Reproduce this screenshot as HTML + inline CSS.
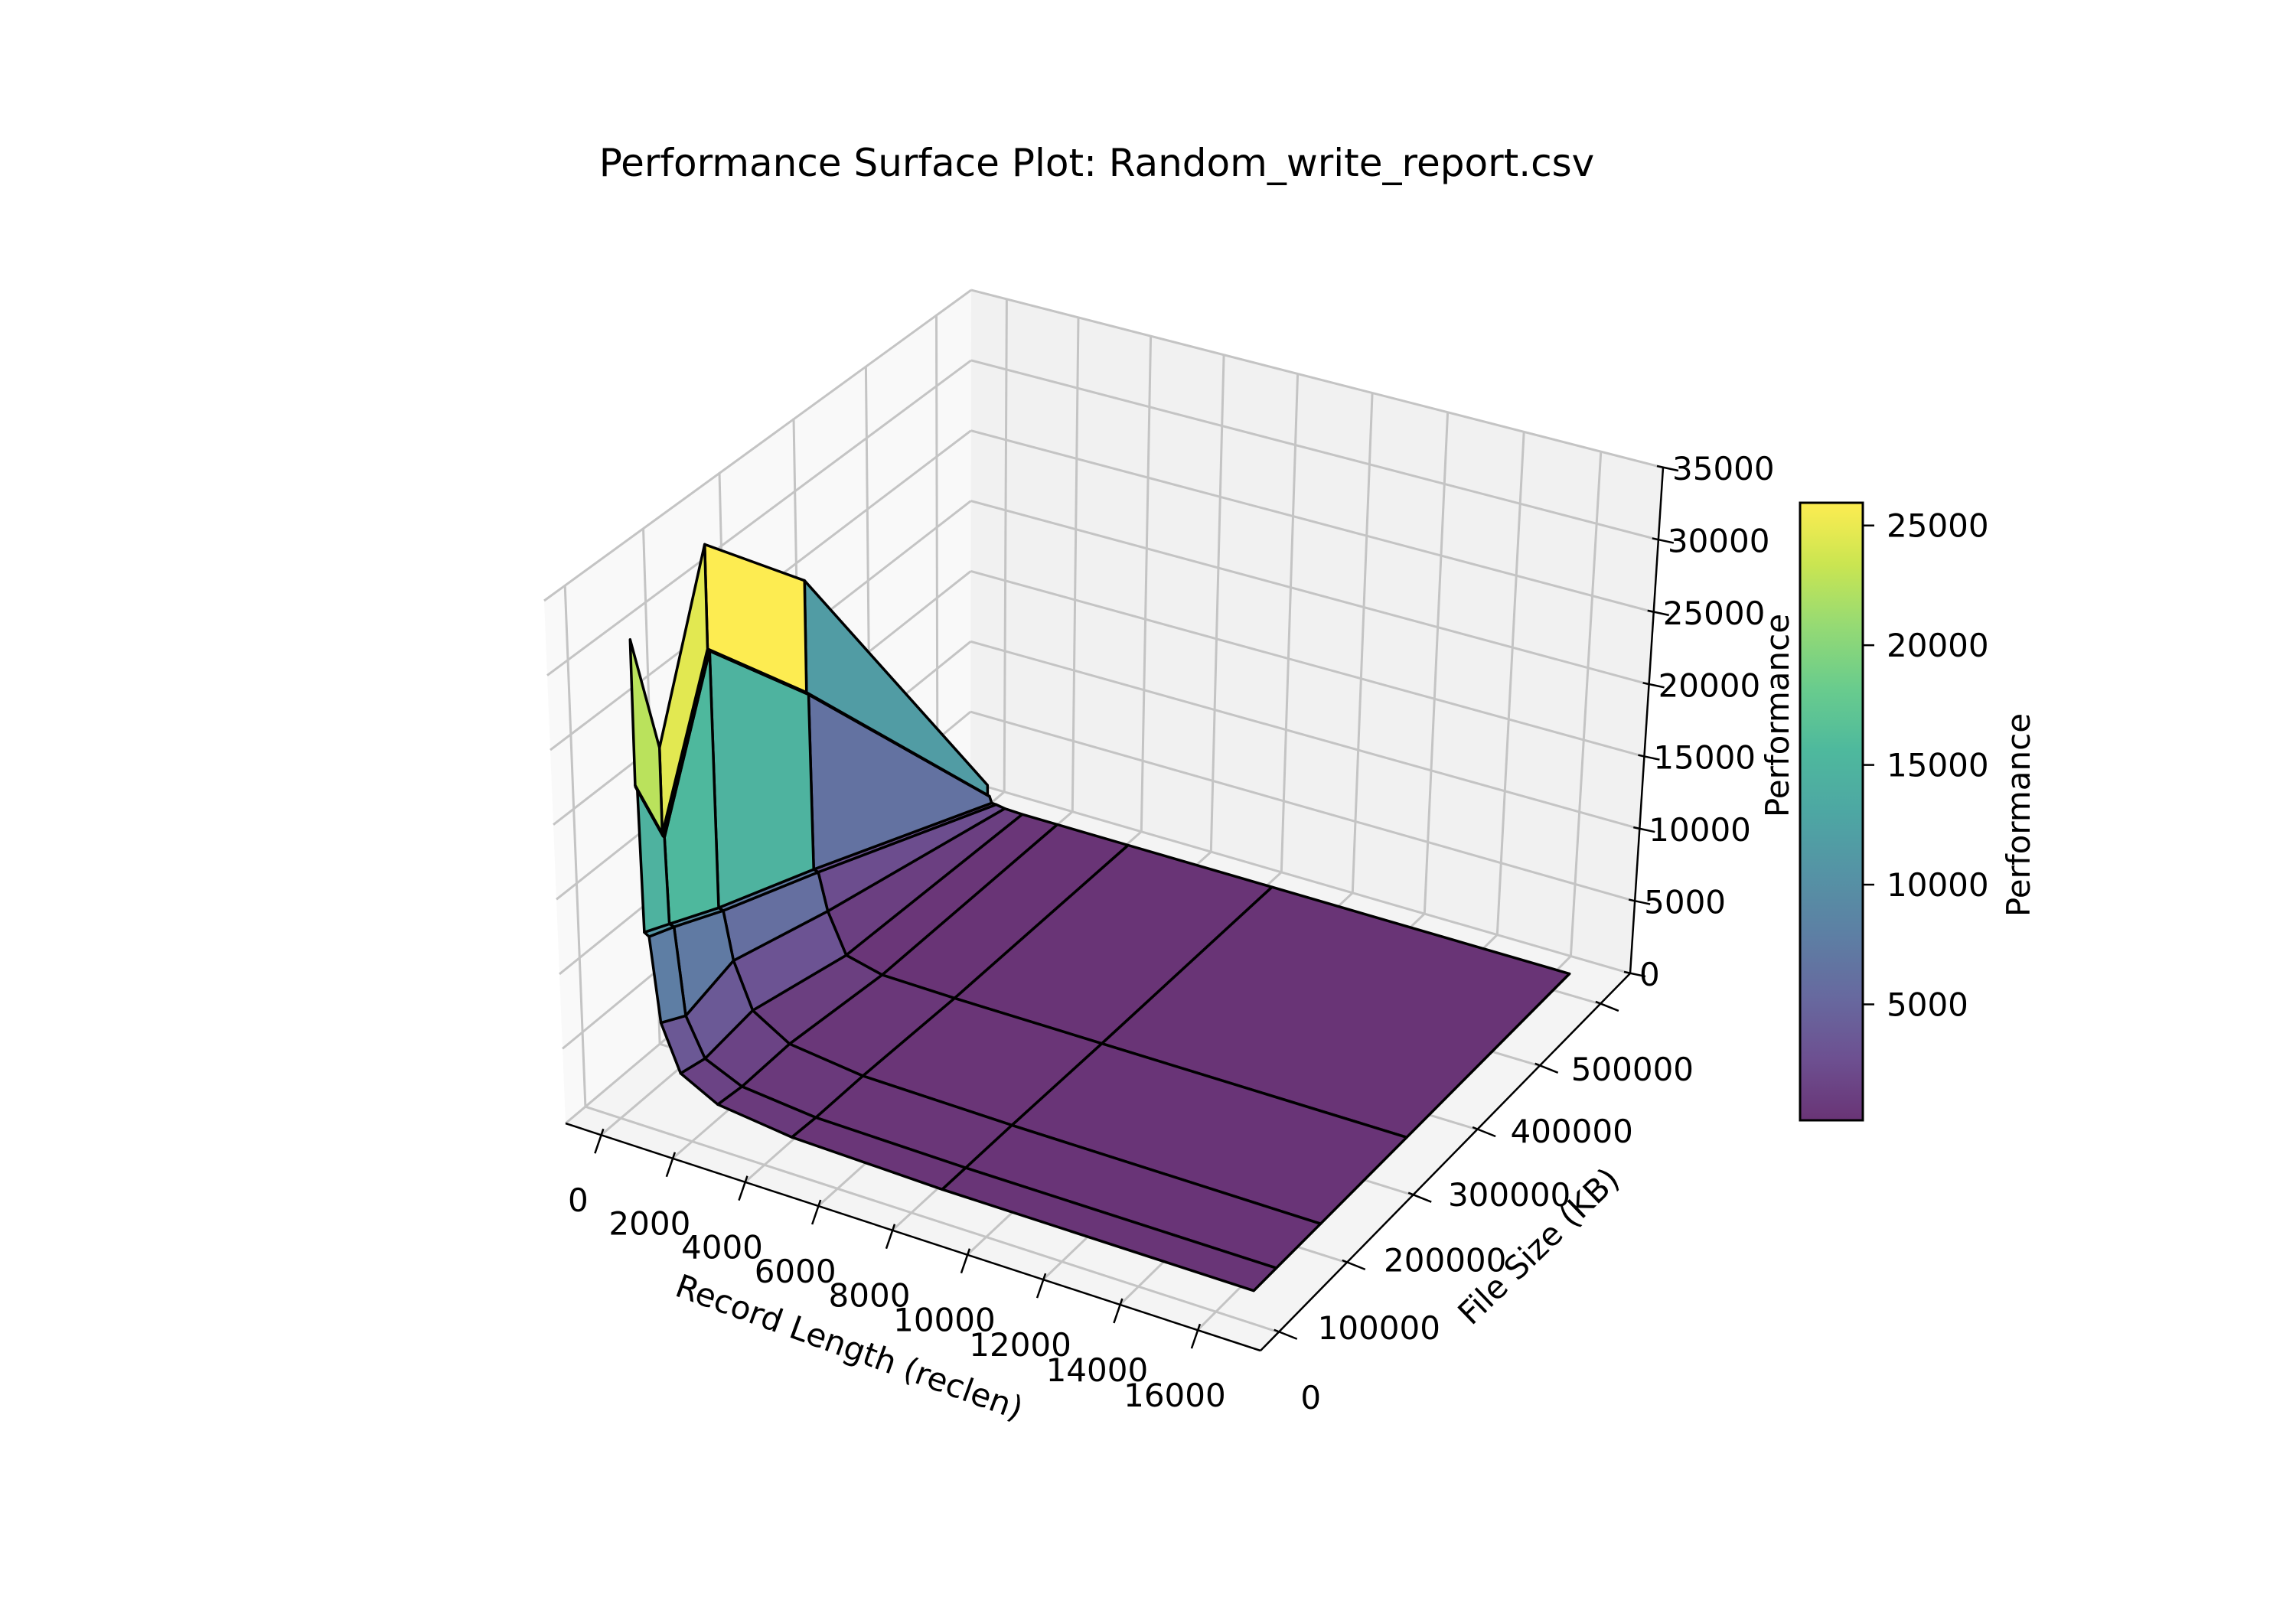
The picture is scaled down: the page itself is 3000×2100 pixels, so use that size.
<!DOCTYPE html>
<html><head><meta charset="utf-8"><style>
html,body{margin:0;padding:0;background:#fff;}
svg{display:block;font-family:"DejaVu Sans","Liberation Sans",sans-serif;}
</style></head><body>
<svg id="chart" width="3000" height="2100" viewBox="0 0 3000 2100" xmlns="http://www.w3.org/2000/svg">
<rect width="3000" height="2100" fill="#ffffff"/>
<text x="1433" y="230" font-size="50" text-anchor="middle">Performance Surface Plot: Random_write_report.csv</text>
<g id="panes"></g>
<g id="grid"></g>
<g id="axes"></g>
<g id="surface"></g>
<g id="cbar"></g>
<text x="1110" y="1775" font-size="42" text-anchor="middle" transform="rotate(20 1110 1760)">Record Length (reclen)</text>
<text x="2010" y="1643" font-size="42" text-anchor="middle" transform="rotate(-44 2010 1628)">File Size (KB)</text>
<text x="2322" y="950" font-size="42" text-anchor="middle" transform="rotate(-90 2322 935)">Performance</text>
<text x="2637" y="1080" font-size="42" text-anchor="middle" transform="rotate(-90 2637 1065)">Performance</text>
</svg>
<script>
// ---- data ----
const reclen = [4, 8, 16, 32, 64, 128, 256, 512, 1024, 2048, 4096, 8192, 16384];
const fileSize = [32768, 65536, 131072, 262144, 524288];
const perf32768  = [30800, 21000, 20900, 20850, 20800, 11200, 11000, 5400, 2400, 1100, 500, 250, 200];
const perf65536  = [22200, 16400, 16300, 16250, 16200, 10400, 10300, 4500, 2000, 900, 400, 250, 200];
const perf131072 = [33400, 26300, 26250, 26220, 26200, 8800, 8700, 5500, 2500, 1000, 400, 250, 180];
const perf262144 = [25900, 18200, 18150, 18120, 18100, 6100, 6000, 3500, 850, 250, 180, 170, 160];
const perf524288 = [1500, 800, 780, 770, 760, 320, 300, 200, 150, 150, 150, 150, 150];
const perfRows = [perf32768, perf65536, perf131072, perf262144, perf524288];
const xTicks = [0, 2000, 4000, 6000, 8000, 10000, 12000, 14000, 16000];
const yTicks = [0, 100000, 200000, 300000, 400000, 500000];
const zTicks = [0, 5000, 10000, 15000, 20000, 25000, 30000, 35000];
const cbarTicks = [5000, 10000, 15000, 20000, 25000];

// ---- projection ----
const XL = [-1000, 17600], YL = [-26147, 550435], ZL = [0, 35000];
const A=[739,1468], B=[1647,1765], C=[2130,1272], D=[1268,1022];
const ZA=[-28,-683], ZB=[14,-701], ZC=[43,-661], ZD=[1,-643];
const sx=A[0]-B[0]+C[0]-D[0], sy=A[1]-B[1]+C[1]-D[1];
const dx1=B[0]-C[0], dx2=D[0]-C[0], dy1=B[1]-C[1], dy2=D[1]-C[1];
const den=dx1*dy2-dx2*dy1;
const hg=(sx*dy2-dx2*sy)/den, hh=(dx1*sy-sx*dy1)/den;
const ha=B[0]-A[0]+hg*B[0], hb=D[0]-A[0]+hh*D[0], hc=A[0];
const hd=B[1]-A[1]+hg*B[1], he=D[1]-A[1]+hh*D[1], hf=A[1];
function proj(x,y,z){
  const u=(x-XL[0])/(XL[1]-XL[0]), v=(y-YL[0])/(YL[1]-YL[0]), w=(z-ZL[0])/(ZL[1]-ZL[0]);
  const q=hg*u+hh*v+1;
  const px=(ha*u+hb*v+hc)/q, py=(hd*u+he*v+hf)/q;
  const zx=ZA[0]*(1-u)*(1-v)+ZB[0]*u*(1-v)+ZC[0]*u*v+ZD[0]*(1-u)*v;
  const zy=ZA[1]*(1-u)*(1-v)+ZB[1]*u*(1-v)+ZC[1]*u*v+ZD[1]*(1-u)*v;
  return [px+zx*w, py+zy*w];
}
function depth(x,y,z){
  const u=(x-XL[0])/(XL[1]-XL[0]), v=(y-YL[0])/(YL[1]-YL[0]), w=(z-ZL[0])/(ZL[1]-ZL[0]);
  return 0.433*u-0.75*v+0.375*w;
}
const NS='http://www.w3.org/2000/svg';
function mk(tag,attrs,parent){const e=document.createElementNS(NS,tag);for(const k in attrs)e.setAttribute(k,attrs[k]);parent.appendChild(e);return e;}
function pts(arr){return arr.map(p=>p[0].toFixed(1)+','+p[1].toFixed(1)).join(' ');}

// viridis
const VIR=['#440154','#482475','#414487','#355f8d','#2a788e','#21918c','#22a884','#44bf70','#7ad151','#bddf26','#fde725'];
function hex(c){return [parseInt(c.substr(1,2),16),parseInt(c.substr(3,2),16),parseInt(c.substr(5,2),16)];}
function viridis(t,alpha){
  t=Math.max(0,Math.min(1,t));const f=t*10, i=Math.min(9,Math.floor(f)), r=f-i;
  const a=hex(VIR[i]), b=hex(VIR[i+1]);
  const c=[0,1,2].map(k=>a[k]+(b[k]-a[k])*r).map(v=>Math.round(v*alpha+255*(1-alpha)));
  return 'rgb('+c.join(',')+')';
}

// ---- panes ----
const panes=document.getElementById('panes');
let e;
e=mk('polygon',{points:pts([proj(XL[0],YL[0],ZL[0]),proj(XL[0],YL[1],ZL[0]),proj(XL[0],YL[1],ZL[1]),proj(XL[0],YL[0],ZL[1])]),fill:'#f9f9f9'},panes);


e=mk('polygon',{points:pts([proj(XL[0],YL[1],ZL[0]),proj(XL[1],YL[1],ZL[0]),proj(XL[1],YL[1],ZL[1]),proj(XL[0],YL[1],ZL[1])]),fill:'#f1f1f1'},panes);


e=mk('polygon',{points:pts([proj(XL[0],YL[0],ZL[0]),proj(XL[1],YL[0],ZL[0]),proj(XL[1],YL[1],ZL[0]),proj(XL[0],YL[1],ZL[0])]),fill:'#f4f4f4'},panes);



// ---- gridlines ----
const grid=document.getElementById('grid');
function gl(p1,p2,name){const l=mk('polyline',{points:pts([p1,p2]),stroke:'#c4c4c4','stroke-width':3,fill:'none'},grid);

}
xTicks.forEach(t=>{gl(proj(t,YL[0],0),proj(t,YL[1],0),'x-gridline-floor');gl(proj(t,YL[1],0),proj(t,YL[1],ZL[1]),'x-gridline-wall');});
yTicks.forEach(t=>{gl(proj(XL[0],t,0),proj(XL[1],t,0),'y-gridline-floor');gl(proj(XL[0],t,0),proj(XL[0],t,ZL[1]),'y-gridline-wall');});
zTicks.forEach(t=>{gl(proj(XL[0],YL[0],t),proj(XL[0],YL[1],t),'z-gridline-left');gl(proj(XL[0],YL[1],t),proj(XL[1],YL[1],t),'z-gridline-back');});

// ---- axes ----
const axes=document.getElementById('axes');
function line(p1,p2,w,name,parent){const l=mk('line',{x1:p1[0],y1:p1[1],x2:p2[0],y2:p2[1],stroke:'#000','stroke-width':w},parent||axes);

return l;}
function txt(x,y,s,anchor,name,parent){const t=mk('text',{x:x,y:y,'font-size':42,'text-anchor':anchor},parent||axes);t.textContent=s;

return t;}
line(proj(XL[0],YL[0],0),proj(XL[1],YL[0],0),2.5,'x-axis-line');
line(proj(XL[1],YL[0],0),proj(XL[1],YL[1],0),2.5,'y-axis-line');
line(proj(XL[1],YL[1],ZL[0]),proj(XL[1],YL[1],ZL[1]),2.5,'z-axis-line');
xTicks.forEach(t=>{const p=proj(t,YL[0],0);line([p[0]+3,p[1]-8],[p[0]-8,p[1]+24],2.5,'x-tick');txt(p[0]-30,p[1]+100,String(t),'middle','x-tick-label');});
yTicks.forEach(t=>{const p=proj(XL[1],t,0);line([p[0]-6,p[1]-3],[p[0]+24,p[1]+9],2.5,'y-tick');txt(p[0]+42,p[1]+100,String(t),'middle','y-tick-label');});
zTicks.forEach(t=>{const p=proj(XL[1],YL[1],t);line([p[0]-8,p[1]-2],[p[0]+20,p[1]+4],2.5,'z-tick');txt(p[0]+12,p[1]+16,String(t),'start','z-tick-label');});

// ---- surface ----
const surf=document.getElementById('surface');
const quads=[];
for(let j=0;j<fileSize.length-1;j++){
  for(let i=0;i<reclen.length-1;i++){
    const c=[[i,j],[i+1,j],[i+1,j+1],[i,j+1]];
    const P=c.map(([a,b])=>[reclen[a],fileSize[b],perfRows[b][a]]);
    const mean=P.reduce((s,p)=>s+p[2],0)/4;
    const d=P.reduce((s,p)=>s+depth(p[0],p[1],p[2]),0)/4;
    quads.push({P,mean,d});
  }
}
const means=quads.map(q=>q.mean);
const vmin=Math.min(...means), vmax=Math.max(...means);
quads.sort((a,b)=>a.d-b.d);
quads.forEach(q=>{
  const p=mk('polygon',{points:pts(q.P.map(v=>proj(v[0],v[1],v[2]))),fill:viridis((q.mean-vmin)/(vmax-vmin),0.8),stroke:'#000','stroke-width':3.5,'stroke-linejoin':'round'},surf);
  
  
});

// ---- colorbar ----
const cb=document.getElementById('cbar');
const CB={x:2352,y:657,w:82,h:807};
const defs=mk('defs',{},cb);
const lg=mk('linearGradient',{id:'vg',x1:0,y1:1,x2:0,y2:0},defs);
for(let k=0;k<=20;k++){mk('stop',{offset:(k/20).toFixed(2),'stop-color':viridis(k/20,0.8)},lg);}
e=mk('rect',{x:CB.x,y:CB.y,width:CB.w,height:CB.h,fill:'url(#vg)',stroke:'#000','stroke-width':3},cb);


cbarTicks.forEach(t=>{const y=CB.y+CB.h-(t-vmin)/(vmax-vmin)*CB.h;
  line([CB.x+CB.w,y],[CB.x+CB.w+15,y],2.5,'colorbar-tick',cb);
  txt(CB.x+CB.w+31,y+15,String(t),'start','colorbar-tick-label',cb);});
</script>
</body></html>
